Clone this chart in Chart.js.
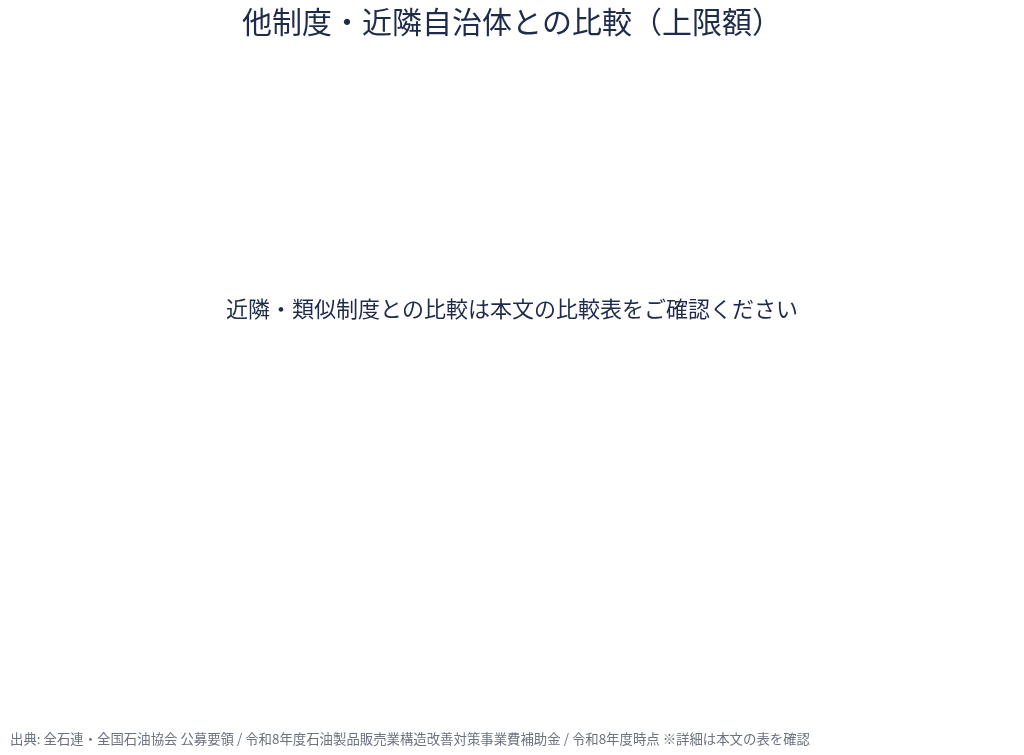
<!DOCTYPE html>
<html lang="ja">
<head>
<meta charset="utf-8">
<title>他制度・近隣自治体との比較（上限額）</title>
<script src="https://cdn.jsdelivr.net/npm/chart.js@4.4.1/dist/chart.umd.min.js"></script>
<style>
    html, body { margin: 0; padding: 0; background: #ffffff; }
    #wrap { width: 1024px; height: 755px; position: relative; }
</style>
</head>
<body>
<div id="wrap"><canvas id="hikakuChart"></canvas></div>
<script>
// Datos: el gráfico de referencia no muestra ninguna serie
const categorias = [];
const limites = [];

const titulo = '他制度・近隣自治体との比較（上限額）';
const mensaje = '近隣・類似制度との比較は本文の比較表をご確認ください';
const fuente = '出典: 全石連・全国石油協会 公募要領 / 令和8年度石油製品販売業構造改善対策事業費補助金 / 令和8年度時点 ※詳細は本文の表を確認';

const fuenteCJK = '"Noto Sans CJK JP", "Noto Sans", sans-serif';
const azul = '#1e2b4a';

// Plugin para escribir el aviso en medio del área vacía
const avisoVacio = {
    id: 'avisoVacio',
    afterDraw(chart) {
        const { ctx, chartArea } = chart;
        ctx.save();
        ctx.font = '22px ' + fuenteCJK;
        ctx.fillStyle = azul;
        ctx.textAlign = 'center';
        ctx.textBaseline = 'middle';
        const x = (chartArea.left + chartArea.right) / 2;
        const y = chartArea.top + (chartArea.bottom - chartArea.top) * 0.382;
        ctx.fillText(mensaje, x, y);
        ctx.restore();
    }
};

const ctx = document.getElementById('hikakuChart').getContext('2d');
new Chart(ctx, {
    type: 'bar',
    data: {
        labels: categorias,
        datasets: [{
            label: '上限額',
            data: limites,
            backgroundColor: azul
        }]
    },
    options: {
        responsive: true,
        maintainAspectRatio: false,
        animation: false,
        layout: {
            padding: { left: 10, right: 10, top: 0, bottom: 4 }
        },
        scales: {
            x: { display: false },
            y: { display: false }
        },
        plugins: {
            legend: { display: false },
            tooltip: { enabled: false },
            title: {
                display: true,
                text: titulo,
                color: azul,
                font: { family: fuenteCJK, size: 30, weight: 'normal' },
                padding: { top: 4, bottom: 10 }
            },
            subtitle: {
                display: true,
                position: 'bottom',
                align: 'start',
                text: fuente,
                color: '#6b7280',
                font: { family: fuenteCJK, size: 13.4, weight: 'normal' },
                padding: { top: 4, bottom: 4 }
            }
        }
    },
    plugins: [avisoVacio]
});
</script>
</body>
</html>
